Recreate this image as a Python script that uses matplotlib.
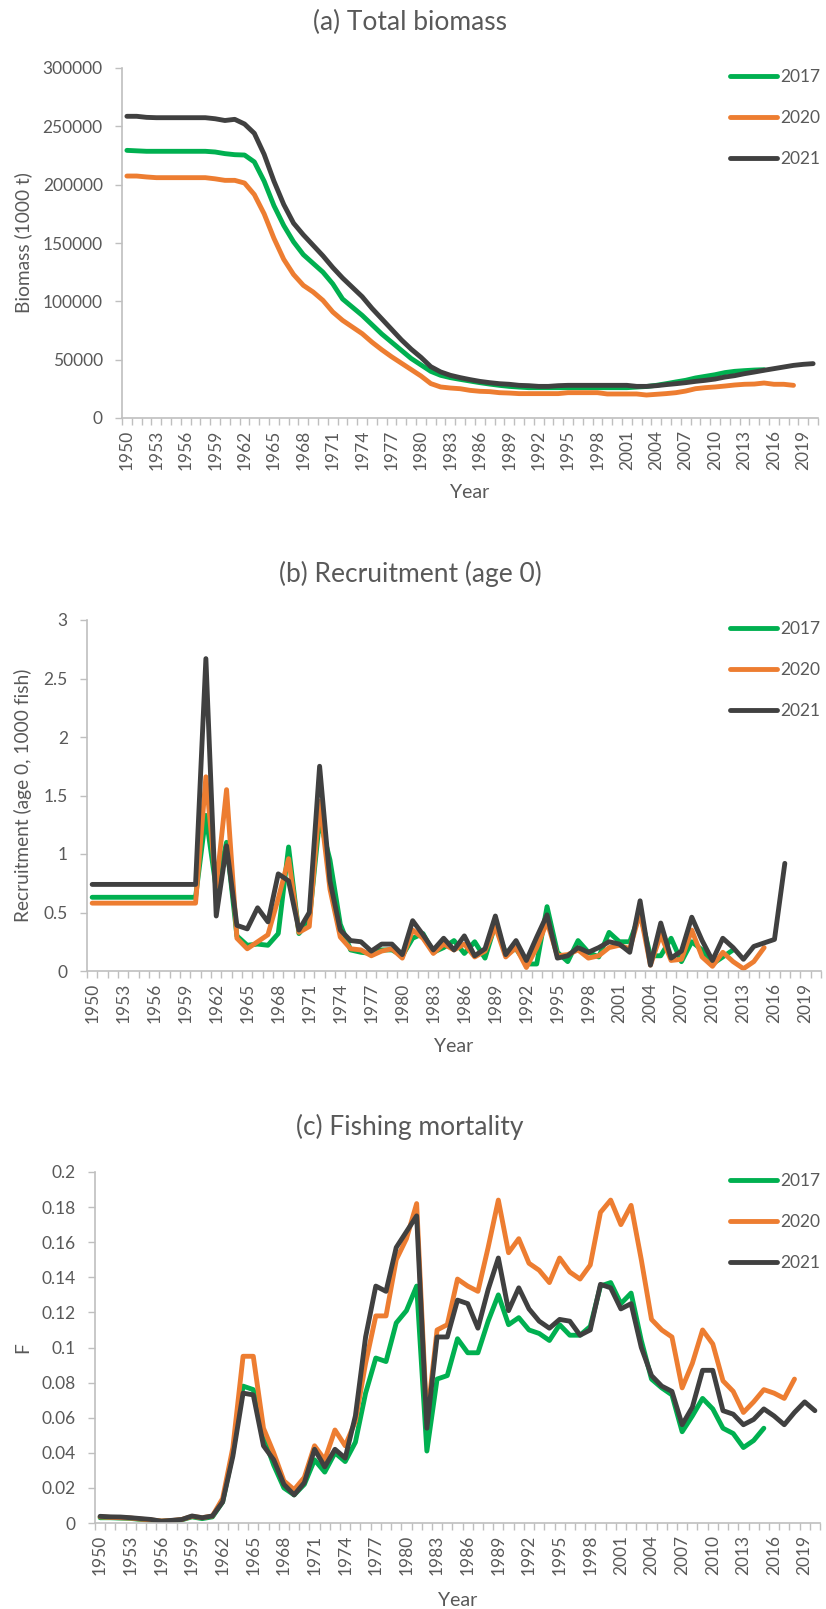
import numpy as np
import matplotlib
matplotlib.use("Agg")
import matplotlib.pyplot as plt

plt.rcParams['font.family'] = ['Lato', 'DejaVu Sans']

# ---------------------------------------------------------------
# datos; cada serie empieza en 1950
# ---------------------------------------------------------------
ANIO0 = 1950
ETIQUETAS = ["2017", "2020", "2021"]
COLORES = ["#00B050", "#ED7D31", "#404040"]

# (a) biomasa total (1000 t)
bio_2017 = [229400, 229000, 228600, 228600, 228600, 228600, 228600, 228600, 228600, 228000,
            226600, 225700, 225400, 219500, 203000, 182000, 165000, 151000, 140000, 132500,
            125000, 115000, 102000, 95000, 88000, 80000, 72000, 65000, 58000, 51000,
            45500, 40000, 36600, 34600, 33100, 31700, 30300, 29100, 28000, 27100,
            26500, 26000, 26000, 26000, 26000, 26000, 26000, 26000, 26000, 26000,
            26000, 26000, 26500, 27000, 28000, 29400, 30900, 32300, 34300, 35700,
            37100, 38900, 40000, 40600, 41100, 41400]
bio_2020 = [207400, 207400, 206600, 206000, 206000, 206000, 206000, 206000, 206000, 205000,
            203700, 203700, 201400, 191500, 175000, 154000, 136000, 123000, 113700, 108000,
            100800, 90900, 83700, 78000, 72300, 65000, 58500, 52500, 47000, 41500,
            36000, 29500, 26600, 25700, 25100, 23700, 22900, 22600, 21700, 21400,
            20900, 20900, 20900, 20900, 20900, 21700, 21700, 21700, 21700, 20600,
            20600, 20600, 20600, 19700, 20300, 20900, 21700, 23100, 25100, 26000,
            26600, 27400, 28300, 28900, 29100, 30000, 28900, 28900, 28000]
bio_2021 = [258600, 258600, 257700, 257400, 257400, 257400, 257400, 257400, 257400, 256500,
            255000, 256000, 252000, 244000, 226000, 203000, 183000, 167000, 157000, 148000,
            139000, 129000, 120000, 112000, 104000, 94000, 85000, 76000, 67000, 59000,
            52000, 44000, 39500, 36600, 34600, 32900, 31400, 30300, 29400, 28900,
            28000, 27700, 27100, 27100, 27700, 28000, 28000, 28000, 28000, 28000,
            28000, 28000, 27100, 27100, 27700, 28600, 29400, 30300, 31400, 32300,
            33400, 35100, 36300, 38000, 39400, 40900, 42300, 43700, 45100, 46000,
            46600]

# (b) reclutamiento (edad 0, 1000 peces)
rec_2017 = [0.63, 0.63, 0.63, 0.63, 0.63, 0.63, 0.63, 0.63, 0.63, 0.63,
            0.63, 1.33, 0.70, 1.10, 0.30, 0.22, 0.23, 0.22, 0.32, 1.06,
            0.32, 0.43, 1.30, 0.95, 0.40, 0.18, 0.16, 0.15, 0.18, 0.18,
            0.13, 0.28, 0.32, 0.16, 0.20, 0.26, 0.15, 0.25, 0.11, 0.40,
            0.15, 0.19, 0.06, 0.06, 0.55, 0.16, 0.08, 0.26, 0.16, 0.12,
            0.33, 0.25, 0.25, 0.49, 0.13, 0.13, 0.28, 0.08, 0.25, 0.18,
            0.06, 0.12, 0.18]
rec_2020 = [0.58, 0.58, 0.58, 0.58, 0.58, 0.58, 0.58, 0.58, 0.58, 0.58,
            0.58, 1.66, 0.72, 1.55, 0.28, 0.19, 0.25, 0.31, 0.62, 0.96,
            0.33, 0.38, 1.45, 0.70, 0.29, 0.19, 0.18, 0.13, 0.17, 0.19,
            0.11, 0.35, 0.28, 0.15, 0.23, 0.18, 0.23, 0.12, 0.17, 0.38,
            0.12, 0.20, 0.03, 0.20, 0.42, 0.13, 0.14, 0.18, 0.11, 0.13,
            0.20, 0.22, 0.19, 0.50, 0.05, 0.31, 0.09, 0.10, 0.35, 0.12,
            0.04, 0.16, 0.08, 0.02, 0.08, 0.20]
rec_2021 = [0.74, 0.74, 0.74, 0.74, 0.74, 0.74, 0.74, 0.74, 0.74, 0.74,
            0.74, 2.67, 0.47, 1.07, 0.39, 0.36, 0.54, 0.42, 0.83, 0.77,
            0.35, 0.50, 1.75, 0.77, 0.35, 0.26, 0.25, 0.17, 0.23, 0.23,
            0.14, 0.43, 0.31, 0.18, 0.28, 0.18, 0.30, 0.13, 0.19, 0.47,
            0.14, 0.26, 0.09, 0.29, 0.48, 0.11, 0.13, 0.20, 0.16, 0.20,
            0.25, 0.23, 0.16, 0.60, 0.05, 0.41, 0.11, 0.17, 0.46, 0.26,
            0.09, 0.28, 0.20, 0.10, 0.21, 0.24, 0.27, 0.92]

# (c) mortalidad por pesca F
f_2017 = [0.0030, 0.0030, 0.0028, 0.0026, 0.0020, 0.0015, 0.0010, 0.0012, 0.0018, 0.0035,
          0.0025, 0.0035, 0.012, 0.040, 0.078, 0.076, 0.049, 0.033, 0.020, 0.016,
          0.022, 0.036, 0.029, 0.040, 0.035, 0.046, 0.074, 0.094, 0.092, 0.114,
          0.121, 0.135, 0.041, 0.082, 0.084, 0.105, 0.097, 0.097, 0.115, 0.130,
          0.113, 0.117, 0.110, 0.108, 0.104, 0.113, 0.107, 0.107, 0.112, 0.135,
          0.137, 0.125, 0.131, 0.104, 0.082, 0.077, 0.073, 0.052, 0.061, 0.071,
          0.065, 0.054, 0.051, 0.043, 0.047, 0.054]
f_2020 = [0.0035, 0.0032, 0.0030, 0.0028, 0.0022, 0.0017, 0.0012, 0.0014, 0.0020, 0.0038,
          0.0030, 0.0040, 0.014, 0.043, 0.095, 0.095, 0.054, 0.040, 0.024, 0.019,
          0.026, 0.044, 0.036, 0.053, 0.044, 0.058, 0.091, 0.118, 0.118, 0.150,
          0.162, 0.182, 0.058, 0.110, 0.113, 0.139, 0.135, 0.132, 0.157, 0.184,
          0.154, 0.162, 0.148, 0.144, 0.137, 0.151, 0.143, 0.139, 0.147, 0.177,
          0.184, 0.170, 0.181, 0.150, 0.116, 0.110, 0.106, 0.077, 0.091, 0.110,
          0.102, 0.081, 0.075, 0.063, 0.069, 0.076, 0.074, 0.071, 0.082]
f_2021 = [0.0038, 0.0035, 0.0034, 0.0030, 0.0025, 0.0020, 0.0010, 0.0015, 0.0020, 0.0040,
          0.0030, 0.0040, 0.012, 0.038, 0.074, 0.073, 0.044, 0.036, 0.022, 0.016,
          0.023, 0.042, 0.032, 0.042, 0.037, 0.061, 0.106, 0.135, 0.132, 0.157,
          0.166, 0.175, 0.054, 0.106, 0.106, 0.127, 0.125, 0.111, 0.133, 0.151,
          0.121, 0.134, 0.122, 0.115, 0.111, 0.116, 0.115, 0.107, 0.110, 0.136,
          0.134, 0.122, 0.125, 0.100, 0.084, 0.078, 0.075, 0.056, 0.066, 0.087,
          0.087, 0.064, 0.062, 0.056, 0.059, 0.065, 0.061, 0.056, 0.063, 0.069,
          0.064]

# ---------------------------------------------------------------
# figura
# ---------------------------------------------------------------
W, H = 826, 1609
GRIS = "#595959"
EJE = "#BFBFBF"

fig = plt.figure(figsize=(W / 100, H / 100), dpi=100)


def caja(x0, x1, y0, y1):
    # rectángulo en píxeles (origen arriba a la izquierda) -> fracción de figura
    return [x0 / W, 1 - y1 / H, (x1 - x0) / W, (y1 - y0) / H]


def panel(px, series, ymax, ypaso, titulo, ylab, y_titulo, y_year, y_leg):
    x0, x1, y0, y1 = px
    ax = fig.add_axes(caja(x0, x1, y0, y1))
    for vals, color, lab in zip(series, COLORES, ETIQUETAS):
        anios = np.arange(ANIO0, ANIO0 + len(vals))
        ax.plot(anios, vals, color=color, lw=3.5, label=lab,
                solid_joinstyle="round", solid_capstyle="round")

    ax.set_xlim(1949.5, 2020.5)
    ax.set_ylim(0, ymax)

    ax.set_xticks(np.arange(1950, 2021, 3))
    ax.set_xticklabels([str(a) for a in range(1950, 2021, 3)], rotation=90)
    ax.set_xticks(np.arange(1949.5, 2021, 1), minor=True)
    ax.tick_params(axis="x", which="major", length=0, pad=8.5,
                   labelsize=12.5, labelcolor=GRIS)
    ax.tick_params(axis="x", which="minor", length=4.8, width=1.0, color=EJE)

    yt = np.arange(0, ymax + ypaso / 2, ypaso)
    ax.set_yticks(yt)
    ax.set_yticklabels([f"{v:g}" for v in yt])
    ax.tick_params(axis="y", length=4.8, width=1.0, color=EJE, pad=9,
                   labelsize=12.5, labelcolor=GRIS)

    for s in ["top", "right"]:
        ax.spines[s].set_visible(False)
    for s in ["left", "bottom"]:
        ax.spines[s].set_color(EJE)
        ax.spines[s].set_linewidth(1.2)

    xc = (x0 + x1) / 2
    fig.text(410 / W, 1 - y_titulo / H, titulo, ha="center", va="center",
             fontsize=19, color=GRIS)
    fig.text(23 / W, 1 - (y0 + y1) / 2 / H, ylab, ha="center", va="center",
             rotation=90, fontsize=13.8, color=GRIS)
    fig.text(xc / W, 1 - y_year / H, "Year", ha="center", va="center",
             fontsize=14, color=GRIS)

    ax.legend(loc="upper left", bbox_to_anchor=(730 / W, 1 - y_leg / H),
              bbox_transform=fig.transFigure, frameon=False, fontsize=12.5,
              labelcolor=GRIS, handlelength=2.7, handletextpad=0.2,
              labelspacing=1.45, borderpad=0, borderaxespad=0)
    return ax


panel((122, 818, 68, 418), [bio_2017, bio_2020, bio_2021], 300000, 50000,
      "(a) Total biomass", "Biomass (1000 t)", 22, 492, 69)
panel((87, 821, 620, 971), [rec_2017, rec_2020, rec_2021], 3, 0.5,
      "(b) Recruitment (age 0)", "Recruitment (age 0, 1000 fish)", 574, 1047, 621)
panel((95, 820, 1172, 1523), [f_2017, f_2020, f_2021], 0.2, 0.02,
      "(c) Fishing mortality", "F", 1127, 1600, 1173)

fig.savefig("out.png", dpi=100)
